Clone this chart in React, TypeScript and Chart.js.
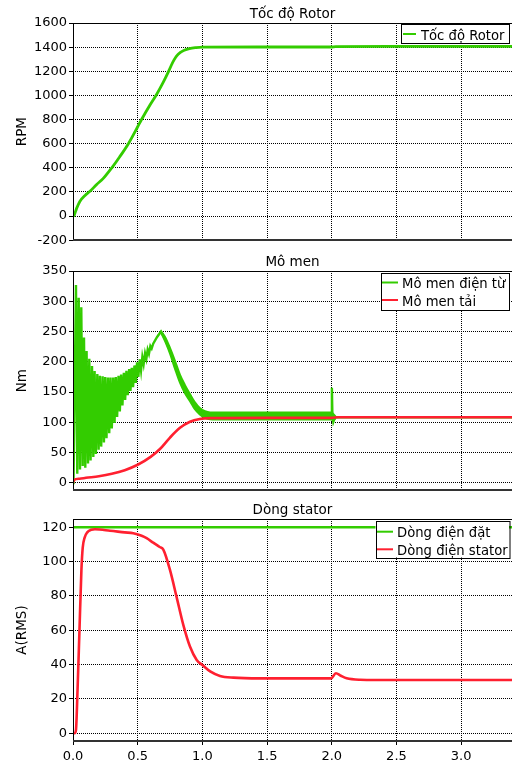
import React, { useEffect, useRef } from "react";
import { Chart, registerables } from "chart.js";

Chart.register(...registerables);

const FONT_FAMILY = "'DejaVu Sans', Verdana, sans-serif";
const GREEN = "#33cc00";
const RED = "#ff2030";

// ---- X axis (time, s)
const X_MIN = 0;
const X_MAX = 3.393;
const X_STEP = 0.5;

// ---- Panel 1: Tốc độ Rotor (RPM)
const speedTime = [0, 0.008, 0.028, 0.054, 0.093, 0.131, 0.183, 0.234, 0.3, 0.36, 0.428, 0.5, 0.53, 0.595, 0.647, 0.698, 0.737, 0.76, 0.78, 0.8, 0.83, 0.86, 0.9, 0.95, 1.0, 1.5, 1.995, 2.03, 2.6, 3.393];
const speedRpm = [0, 5, 64, 123, 171, 205, 262, 312, 400, 490, 600, 740, 800, 920, 1010, 1110, 1195, 1250, 1292, 1326, 1356, 1374, 1388, 1396, 1400, 1401, 1401, 1405, 1406, 1406];

// ---- Panel 2: Mô men (Nm)
const torqueEmTime = [
  0, 0.004, 0.023, 0.033, 0.044, 0.054, 0.064, 0.075, 0.085, 0.095,
  0.105, 0.116, 0.126, 0.136, 0.147, 0.157, 0.167, 0.177, 0.188, 0.198,
  0.208, 0.218, 0.229, 0.239, 0.249, 0.259, 0.27, 0.28, 0.29, 0.3,
  0.311, 0.321, 0.331, 0.341, 0.352, 0.362, 0.372, 0.382, 0.393, 0.403,
  0.413, 0.423, 0.434, 0.444, 0.454, 0.464, 0.475, 0.485, 0.495, 0.505,
  0.516, 0.526, 0.536, 0.546, 0.557, 0.567, 0.577, 0.587, 0.598, 0.608,
  0.62, 0.65, 0.68, 0.715, 0.75, 0.79, 0.827, 0.865, 0.904, 0.94,
  0.98, 1.02, 1.06, 1.1, 1.997, 2.001, 2.005, 2.012, 2.02, 2.03, 3.393,
];
const torqueEm = [
  0, 2, 327, 15, 306, 22, 290, 28, 240, 25,
  218, 32, 205, 37, 193, 43, 185, 48, 180, 55,
  177, 60, 176, 67, 175, 74, 174, 82, 174, 90,
  174, 99, 175, 109, 177, 118, 179, 128, 182, 137,
  185, 145, 188, 152, 190, 158, 194, 165, 199, 175,
  204, 186, 208, 196, 214, 205, 220, 213, 226, 222,
  230, 241, 250, 236, 218, 194, 172, 155, 141.5, 128,
  118.5, 113, 110.5, 110, 110, 157, 110, 101, 106, 108.5, 108.5,
];
const rippleTime = [0.68, 0.715, 0.75, 0.79, 0.827, 0.865, 0.904, 0.94, 0.98, 1.02, 1.06, 1.1, 1.4, 1.7, 1.997, 2.012, 2.03];
const rippleHigh = [251, 240, 223, 201, 179, 162, 147, 134, 124, 118.5, 116.5, 116.5, 116.5, 116.5, 116.5, 114, 110];
const rippleLow = [248, 232, 213, 187, 165, 148, 135, 122, 113, 107.5, 105, 104.5, 104.5, 104.5, 104.5, 103, 107];
const torqueLoadTime = [0, 0.008, 0.05, 0.1, 0.2, 0.3, 0.4, 0.5, 0.6, 0.672, 0.75, 0.827, 0.904, 0.98, 1.06, 1.5, 1.995, 2.05, 3.393];
const torqueLoad = [0, 5, 7, 8.5, 11, 15, 21, 30, 43, 56, 75, 91, 101, 105.5, 107, 107.5, 107.5, 108.5, 108.5];

// ---- Panel 3: Dòng stator (A RMS)
const currentRefTime = [0, 3.393];
const currentRef = [120, 120];
const currentStatorTime = [0, 0.012, 0.023, 0.035, 0.05, 0.065, 0.075, 0.09, 0.11, 0.14, 0.17, 0.286, 0.4, 0.466, 0.53, 0.569, 0.62, 0.67, 0.698, 0.75, 0.8, 0.853, 0.904, 0.956, 1.0, 1.06, 1.136, 1.24, 1.445, 1.995, 2.032, 2.07, 2.115, 2.218, 2.5, 3.393];
const currentStator = [0, 0, 2, 25, 60, 95, 108, 114, 117, 118.5, 118.8, 118, 117, 116.5, 115, 113.6, 111, 108.5, 107, 95, 79.6, 63, 50.5, 42.7, 39.8, 36, 33.4, 32.4, 32, 32, 35, 33.5, 32, 31.2, 31, 31];

function pts(t: number[], v: number[]) {
  return t.map((x, i) => ({ x, y: v[i] }));
}

const decorPlugin = {
  id: "decor",
  afterDatasetsDraw(chart: any) {
    const o = chart.options.plugins.decor;
    const { ctx, chartArea: ca } = chart;
    ctx.save();
    ctx.setLineDash([]);
    ctx.strokeStyle = "#000";
    ctx.lineWidth = 1;
    ctx.beginPath();
    const top = Math.round(ca.top) + 0.5;
    const left = Math.round(ca.left) + 0.5;
    ctx.moveTo(left, top);
    ctx.lineTo(ca.right, top);
    ctx.moveTo(left, top);
    ctx.lineTo(left, ca.bottom);
    ctx.stroke();
    ctx.strokeStyle = "#333";
    ctx.lineWidth = 2;
    ctx.beginPath();
    ctx.moveTo(ca.left, Math.round(ca.bottom));
    ctx.lineTo(ca.right, Math.round(ca.bottom));
    ctx.stroke();
    // title
    ctx.fillStyle = "#000";
    ctx.font = `13.5px ${FONT_FAMILY}`;
    ctx.textAlign = "center";
    ctx.textBaseline = "alphabetic";
    ctx.fillText(o.title, (ca.left + ca.right) / 2, ca.top - 5);
    // legend box
    const L = o.legend;
    ctx.fillStyle = "#fff";
    ctx.fillRect(L.x, L.y, L.w, L.h);
    ctx.strokeStyle = "#000";
    ctx.lineWidth = 1;
    ctx.strokeRect(Math.round(L.x) + 0.5, Math.round(L.y) + 0.5, L.w, L.h);
    ctx.textAlign = "left";
    ctx.font = `13.2px ${FONT_FAMILY}`;
    L.items.forEach((it: any, i: number) => {
      const y = L.rows[i];
      ctx.strokeStyle = it.color;
      ctx.lineWidth = 2;
      ctx.beginPath();
      ctx.moveTo(L.sx[0], y);
      ctx.lineTo(L.sx[1], y);
      ctx.stroke();
      ctx.fillStyle = "#000";
      ctx.fillText(it.label, L.tx, y + 5.5);
    });
    ctx.restore();
  },
};

interface PanelSpec {
  height: number;
  padTop: number;
  xAxisH: number;
  showX: boolean;
  title: string;
  yTitle: string;
  yMin: number;
  yMax: number;
  yStep: number;
  datasets: any[];
  legend: any;
}

function Panel({ spec }: { spec: PanelSpec }) {
  const ref = useRef<HTMLCanvasElement>(null);
  useEffect(() => {
    const chart = new Chart(ref.current as HTMLCanvasElement, {
      type: "line",
      data: { datasets: spec.datasets },
      options: {
        responsive: false,
        animation: false,
        devicePixelRatio: 1,
        layout: { padding: { top: spec.padTop, left: 0, right: 0, bottom: 0 } },
        plugins: {
          legend: { display: false },
          tooltip: { enabled: false },
          title: { display: false },
          decor: { title: spec.title, legend: spec.legend },
        } as any,
        elements: { point: { radius: 0 } },
        scales: {
          x: {
            type: "linear",
            min: X_MIN,
            max: X_MAX,
            ticks: {
              display: spec.showX,
              stepSize: X_STEP,
              includeBounds: false,
              autoSkip: false,
              maxRotation: 0,
              padding: 4,
              color: "#000",
              font: { family: FONT_FAMILY, size: 13 },
              callback: (v: any) => Number(v).toFixed(1),
            },
            grid: {
              color: "#000",
              lineWidth: 1,
              drawTicks: spec.showX,
              tickLength: 4,
              tickColor: "#000",
              tickBorderDash: [],
            } as any,
            border: { display: false, dash: [1, 1] },
            afterFit: (s: any) => {
              s.height = spec.xAxisH;
            },
          },
          y: {
            type: "linear",
            min: spec.yMin,
            max: spec.yMax,
            ticks: {
              stepSize: spec.yStep,
              includeBounds: false,
              padding: 2,
              color: "#000",
              font: { family: FONT_FAMILY, size: 13 },
              callback: (v: any) => String(v),
            },
            grid: {
              color: "#000",
              lineWidth: 1,
              drawTicks: true,
              tickLength: 4,
              tickColor: "#000",
              tickBorderDash: [],
            } as any,
            border: { display: false, dash: [1, 1] },
            title: {
              display: true,
              text: spec.yTitle,
              color: "#000",
              font: { family: FONT_FAMILY, size: 13.5 },
              padding: { top: 14, bottom: 0 },
            },
            afterFit: (s: any) => {
              s.width = 73;
            },
          },
        },
      } as any,
      plugins: [decorPlugin],
    });
    return () => chart.destroy();
  }, []);
  return <canvas ref={ref} width={512} height={spec.height} style={{ display: "block" }} />;
}

const panels: PanelSpec[] = [
  {
    height: 250,
    padTop: 23,
    xAxisH: 4,
    showX: false,
    title: "Tốc độ Rotor",
    yTitle: "RPM",
    yMin: -200,
    yMax: 1600,
    yStep: 200,
    datasets: [
      { label: "Tốc độ Rotor", data: pts(speedTime, speedRpm), borderColor: GREEN, borderWidth: 2.8, pointRadius: 0, cubicInterpolationMode: "monotone" },
    ],
    legend: { x: 401, y: 24, w: 108, h: 19, rows: [34], sx: [403, 416], tx: 421, items: [{ label: "Tốc độ Rotor", color: GREEN }] },
  },
  {
    height: 250,
    padTop: 21,
    xAxisH: 7,
    showX: false,
    title: "Mô men",
    yTitle: "Nm",
    yMin: -12,
    yMax: 350,
    yStep: 50,
    datasets: [
      { label: "Mô men tải", data: pts(torqueLoadTime, torqueLoad), borderColor: RED, borderWidth: 2.6, pointRadius: 0, cubicInterpolationMode: "monotone", order: 0 },
      { label: "Mô men điện từ", data: pts(torqueEmTime, torqueEm), borderColor: GREEN, borderWidth: 2.4, pointRadius: 0, tension: 0, order: 1 },
      { label: "ripple-high", data: pts(rippleTime, rippleHigh), borderColor: GREEN, borderWidth: 1.8, pointRadius: 0, cubicInterpolationMode: "monotone", order: 2 },
      { label: "ripple-low", data: pts(rippleTime, rippleLow), borderColor: GREEN, backgroundColor: GREEN, borderWidth: 1.8, pointRadius: 0, cubicInterpolationMode: "monotone", fill: 2, order: 3 },
    ],
    legend: {
      x: 381, y: 23, w: 128, h: 37, rows: [32.5, 50], sx: [382, 398], tx: 402,
      items: [{ label: "Mô men điện từ", color: GREEN }, { label: "Mô men tải", color: RED }],
    },
  },
  {
    height: 266,
    padTop: 19,
    xAxisH: 25,
    showX: true,
    title: "Dòng stator",
    yTitle: "A(RMS)",
    yMin: -4.5,
    yMax: 124.8,
    yStep: 20,
    datasets: [
      { label: "Dòng điện stator", data: pts(currentStatorTime, currentStator), borderColor: RED, borderWidth: 2.6, pointRadius: 0, cubicInterpolationMode: "monotone", order: 0 },
      { label: "Dòng điện đặt", data: pts(currentRefTime, currentRef), borderColor: GREEN, borderWidth: 2.6, pointRadius: 0, order: 1 },
    ],
    legend: {
      x: 375.5, y: 20.5, w: 133.5, h: 37, rows: [31.7, 49.3], sx: [377, 393], tx: 397,
      items: [{ label: "Dòng điện đặt", color: GREEN }, { label: "Dòng điện stator", color: RED }],
    },
  },
];

export default function App() {
  useEffect(() => {
    document.body.style.margin = "0";
    document.body.style.overflow = "hidden";
  }, []);
  return (
    <div style={{ width: 512, height: 766, background: "#fff" }}>
      {panels.map((p, i) => (
        <Panel key={i} spec={p} />
      ))}
    </div>
  );
}
